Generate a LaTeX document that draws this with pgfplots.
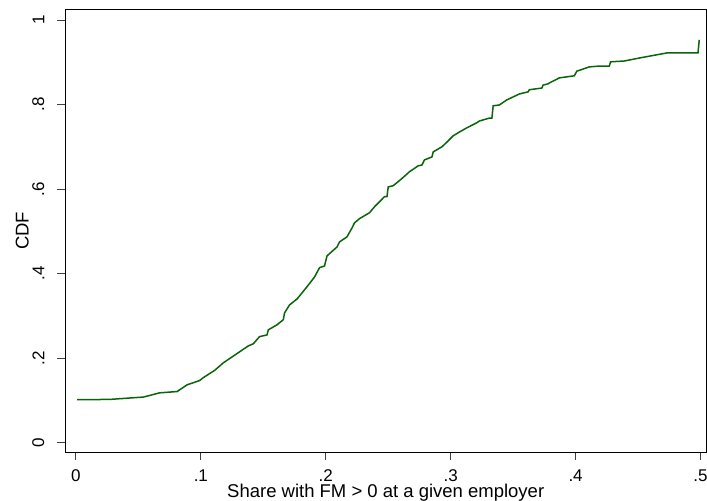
\documentclass[border=0pt]{standalone}
\usepackage{pgfplots}
\pgfplotsset{compat=1.18}
\usepackage{fontspec}
\setmainfont{Liberation Sans}
\definecolor{lgreen}{RGB}{10,100,10}
\begin{document}
\begin{tikzpicture}
\begin{axis}[name=ax,
  scale only axis, width=642pt, height=444pt,
  xmin=-0.0088, xmax=0.5048, ymin=-0.0236, ymax=1.026,
  axis line style={black, line width=0.9pt},
  tick align=outside, tick pos=left,
  major tick length=7.5pt,
  tick style={black!75, line width=0.9pt},
  xtick={0,0.1,0.2,0.3,0.4,0.5},
  xticklabels={0,.1,.2,.3,.4,.5},
  ytick={0,0.2,0.4,0.6,0.8,1},
  yticklabels={0,.2,.4,.6,.8,1},
  /pgf/number format/assume math mode=true,
  ticklabel style={font=\fontsize{17}{19}\selectfont},
  yticklabel style={rotate=90, anchor=south, inner sep=0pt, yshift=13pt},
  xticklabel style={anchor=north, inner sep=0pt, yshift=-9pt},
  xlabel={Share with FM > 0 at a given employer},
  ylabel={CDF},
  label style={font=\fontsize{18.5}{21}\selectfont},
  xlabel style={at={([yshift=-45.3pt]axis description cs:0.5,0)}, anchor=base, inner sep=0pt},
  ylabel style={at={([xshift=-36pt]axis description cs:0,0.5)}, rotate=0, anchor=south, inner sep=0pt},
  clip=true,
]
\addplot[lgreen, line width=1.5pt] coordinates {
(0.001,0.1017)(0.027,0.1024)(0.054,0.108)(0.058,0.111)(0.067,0.118)
(0.081,0.121)(0.083,0.125)(0.089,0.137)(0.099,0.147)(0.102,0.154)
(0.111,0.171)(0.118,0.189)(0.125,0.203)(0.131,0.215)(0.138,0.229)
(0.142,0.234)(0.147,0.251)(0.153,0.255)(0.154,0.267)(0.161,0.279)
(0.166,0.291)(0.167,0.307)(0.171,0.326)(0.177,0.340)(0.185,0.369)
(0.191,0.392)(0.195,0.414)(0.199,0.418)(0.201,0.442)(0.209,0.463)
(0.211,0.475)(0.217,0.487)(0.221,0.508)(0.223,0.520)(0.227,0.530)
(0.235,0.544)(0.239,0.558)(0.243,0.570)(0.247,0.582)(0.249,0.582)
(0.250,0.605)(0.254,0.608)(0.261,0.625)(0.267,0.641)(0.274,0.655)
(0.277,0.657)(0.279,0.669)(0.285,0.676)(0.286,0.688)(0.293,0.700)
(0.298,0.714)(0.302,0.726)(0.307,0.735)(0.313,0.745)(0.321,0.757)
(0.323,0.761)(0.331,0.768)(0.333,0.768)(0.334,0.797)(0.339,0.799)
(0.345,0.811)(0.355,0.825)(0.362,0.830)(0.363,0.835)(0.373,0.839)
(0.374,0.846)(0.378,0.849)(0.379,0.851)(0.387,0.863)(0.399,0.868)
(0.401,0.879)(0.411,0.889)(0.419,0.891)(0.427,0.891)(0.428,0.901)
(0.439,0.903)(0.451,0.910)(0.473,0.922)(0.498,0.922)(0.499,0.953)
};
\end{axis}
\pgfresetboundingbox
\path[use as bounding box] ([xshift=-65pt,yshift=-48pt]ax.south west) rectangle ([xshift=0.5pt,yshift=9pt]ax.north east);
\end{tikzpicture}
\end{document}
